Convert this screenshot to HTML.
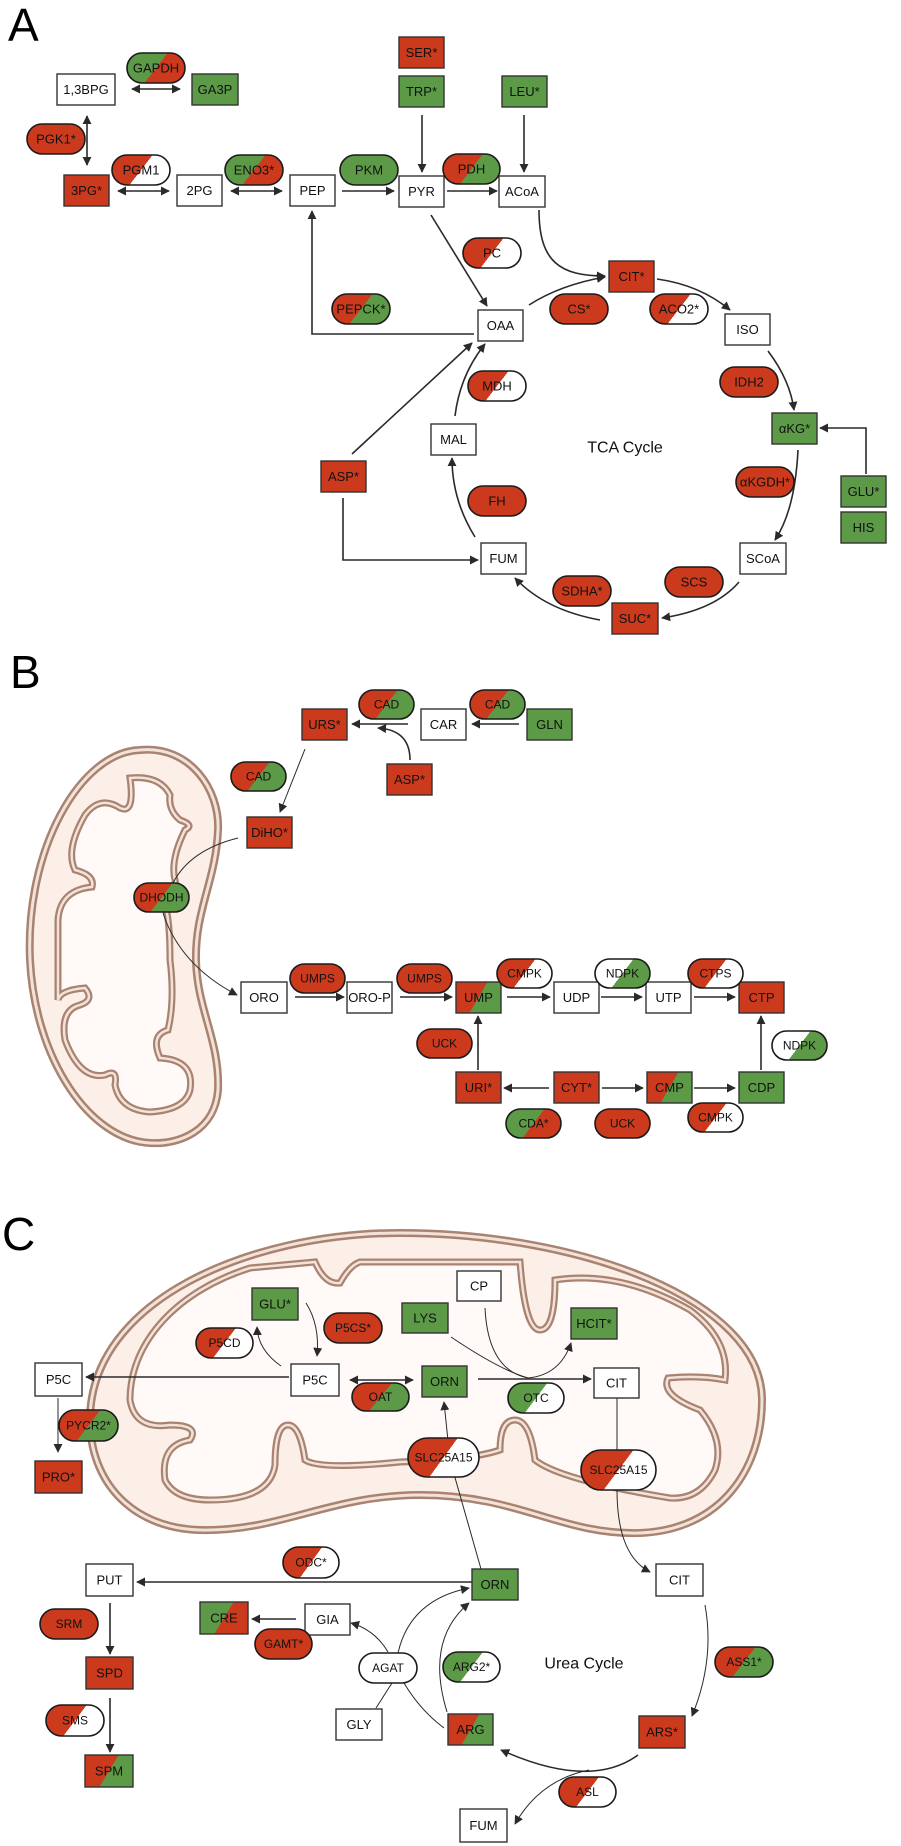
<!DOCTYPE html>
<html><head><meta charset="utf-8">
<style>
html,body{margin:0;padding:0;background:#fff;}
svg{display:block;}
.t{font-family:"Liberation Sans",Arial,sans-serif;font-size:13px;fill:#111;text-anchor:middle;dominant-baseline:central;}
.s{font-size:12px;}
.b{stroke:#333;stroke-width:1.4;}
.p{stroke:#1a1a1a;stroke-width:1.6;}
.a{fill:none;stroke:#2a2a2a;stroke-width:1.6;}
.th{fill:none;stroke:#2a2a2a;stroke-width:1;}
.lab{font-family:"Liberation Sans",Arial,sans-serif;font-size:46px;fill:#000;}
.big{font-family:"Liberation Sans",Arial,sans-serif;font-size:16px;fill:#111;text-anchor:middle;dominant-baseline:central;}
</style></head><body>
<svg width="901" height="1846" viewBox="0 0 901 1846" xmlns="http://www.w3.org/2000/svg">
<defs>
<marker id="ar" viewBox="0 0 10 10" refX="9" refY="5" markerWidth="9" markerHeight="9" markerUnits="userSpaceOnUse" orient="auto-start-reverse"><path d="M0,0 L10,5 L0,10 z" fill="#2a2a2a"/></marker>
<linearGradient id="rg" x1="0" y1="0.3" x2="1" y2="0.7"><stop offset="0.5" stop-color="#cc3a1e"/><stop offset="0.5" stop-color="#5c9a47"/></linearGradient>
<linearGradient id="gr" x1="0" y1="0.3" x2="1" y2="0.7"><stop offset="0.5" stop-color="#5c9a47"/><stop offset="0.5" stop-color="#cc3a1e"/></linearGradient>
<linearGradient id="rw" x1="0" y1="0.3" x2="1" y2="0.7"><stop offset="0.5" stop-color="#cc3a1e"/><stop offset="0.5" stop-color="#ffffff"/></linearGradient>
<linearGradient id="wg" x1="0" y1="0.3" x2="1" y2="0.7"><stop offset="0.5" stop-color="#ffffff"/><stop offset="0.5" stop-color="#5c9a47"/></linearGradient>
<linearGradient id="gw" x1="0" y1="0.3" x2="1" y2="0.7"><stop offset="0.5" stop-color="#5c9a47"/><stop offset="0.5" stop-color="#ffffff"/></linearGradient>
</defs>

<!-- Mitochondria -->
<g>
<path d="M140,750 C190,745 220,790 218,830 C216,880 195,910 196,960 C197,1010 220,1040 218,1090 C215,1130 180,1145 150,1143 C90,1140 35,1060 30,960 C25,850 80,752 140,750 Z" fill="#fbefe8" stroke="#a98371" stroke-width="8"/>
<path d="M140,750 C190,745 220,790 218,830 C216,880 195,910 196,960 C197,1010 220,1040 218,1090 C215,1130 180,1145 150,1143 C90,1140 35,1060 30,960 C25,850 80,752 140,750 Z" fill="none" stroke="#f3e2d8" stroke-width="3"/>
<path d="M130,778 Q135,815 120,808 Q100,795 85,815 Q65,850 75,870 Q95,875 92,887 Q60,890 58,920 L58,1000 Q60,990 85,988 Q95,1000 80,1005 Q60,1010 65,1040 Q80,1080 105,1075 Q118,1068 115,1085 Q120,1110 150,1112 Q185,1110 190,1090 Q195,1060 160,1058 Q150,1035 168,1030 Q175,1000 170,960 Q170,920 165,905 Q180,900 175,880 Q170,860 185,830 Q195,825 180,820 Q168,810 170,795 Q160,775 130,778 Z" fill="#fffaf8" stroke="#a98371" stroke-width="7"/>
<path d="M130,778 Q135,815 120,808 Q100,795 85,815 Q65,850 75,870 Q95,875 92,887 Q60,890 58,920 L58,1000 Q60,990 85,988 Q95,1000 80,1005 Q60,1010 65,1040 Q80,1080 105,1075 Q118,1068 115,1085 Q120,1110 150,1112 Q185,1110 190,1090 Q195,1060 160,1058 Q150,1035 168,1030 Q175,1000 170,960 Q170,920 165,905 Q180,900 175,880 Q170,860 185,830 Q195,825 180,820 Q168,810 170,795 Q160,775 130,778 Z" fill="none" stroke="#f3e2d8" stroke-width="2.5"/>

<path d="M90,1420 C90,1300 250,1233 400,1233 C580,1233 762,1300 762,1400 C762,1470 720,1530 640,1533 C560,1535 520,1495 420,1495 C330,1495 280,1532 200,1530 C130,1528 90,1480 90,1420 Z" fill="#fbefe8" stroke="#a98371" stroke-width="8"/>
<path d="M90,1420 C90,1300 250,1233 400,1233 C580,1233 762,1300 762,1400 C762,1470 720,1530 640,1533 C560,1535 520,1495 420,1495 C330,1495 280,1532 200,1530 C130,1528 90,1480 90,1420 Z" fill="none" stroke="#f3e2d8" stroke-width="3"/>
<path d="M130,1400 C130,1340 180,1290 250,1268 L315,1262 Q325,1285 340,1283 Q350,1265 360,1262 L520,1262 Q525,1330 540,1330 Q555,1330 555,1280 Q620,1270 690,1310 Q730,1340 725,1380 Q700,1375 668,1378 Q660,1395 700,1410 Q725,1440 715,1470 Q700,1500 670,1498 Q560,1480 535,1460 Q530,1420 515,1420 Q500,1420 500,1450 Q470,1460 400,1462 Q320,1470 305,1460 Q300,1425 288,1425 Q275,1425 275,1465 Q270,1500 210,1500 Q175,1500 165,1480 Q160,1445 190,1440 Q200,1425 170,1425 Q135,1430 130,1400 Z" fill="#fffaf8" stroke="#a98371" stroke-width="7"/>
<path d="M130,1400 C130,1340 180,1290 250,1268 L315,1262 Q325,1285 340,1283 Q350,1265 360,1262 L520,1262 Q525,1330 540,1330 Q555,1330 555,1280 Q620,1270 690,1310 Q730,1340 725,1380 Q700,1375 668,1378 Q660,1395 700,1410 Q725,1440 715,1470 Q700,1500 670,1498 Q560,1480 535,1460 Q530,1420 515,1420 Q500,1420 500,1450 Q470,1460 400,1462 Q320,1470 305,1460 Q300,1425 288,1425 Q275,1425 275,1465 Q270,1500 210,1500 Q175,1500 165,1480 Q160,1445 190,1440 Q200,1425 170,1425 Q135,1430 130,1400 Z" fill="none" stroke="#f3e2d8" stroke-width="2.5"/>
</g>

<text class="lab" x="8" y="41">A</text>
<text class="lab" x="10" y="688">B</text>
<text class="lab" x="2" y="1250">C</text>

<!-- Panel A connectors -->
<g class="a">
<line x1="132" y1="89" x2="180" y2="89" marker-start="url(#ar)" marker-end="url(#ar)"/>
<line x1="87" y1="116" x2="87" y2="165" marker-start="url(#ar)" marker-end="url(#ar)"/>
<line x1="118" y1="191" x2="169" y2="191" marker-start="url(#ar)" marker-end="url(#ar)"/>
<line x1="231" y1="191" x2="282" y2="191" marker-start="url(#ar)" marker-end="url(#ar)"/>
<line x1="342" y1="191" x2="394" y2="191" marker-end="url(#ar)"/>
<line x1="447" y1="191" x2="497" y2="191" marker-end="url(#ar)"/>
<line x1="422" y1="115" x2="422" y2="172" marker-end="url(#ar)"/>
<line x1="524" y1="115" x2="524" y2="172" marker-end="url(#ar)"/>
<path d="M474,334 L312,334 L312,211" marker-end="url(#ar)"/>
<line x1="431" y1="215" x2="487" y2="306" marker-end="url(#ar)"/>
<path d="M539,210 C539,262 560,276 605,276" marker-end="url(#ar)"/>
<path d="M529,305 Q560,285 605,277" marker-end="url(#ar)"/>
<path d="M657,279 Q700,285 730,310" marker-end="url(#ar)"/>
<path d="M768,351 Q790,380 794,410" marker-end="url(#ar)"/>
<path d="M798,450 Q795,510 775,540" marker-end="url(#ar)"/>
<path d="M739,582 Q715,610 662,618" marker-end="url(#ar)"/>
<path d="M600,620 Q545,610 515,578" marker-end="url(#ar)"/>
<path d="M475,537 Q452,500 452,458" marker-end="url(#ar)"/>
<path d="M455,416 Q460,375 485,344" marker-end="url(#ar)"/>
<line x1="352" y1="454" x2="472" y2="343" marker-end="url(#ar)"/>
<path d="M343,498 L343,560 L478,560" marker-end="url(#ar)"/>
<path d="M866,474 L866,428 L820,428" marker-end="url(#ar)"/>
</g>
<text class="big" x="625" y="448">TCA Cycle</text>

<!-- Panel A boxes -->
<g>
<rect class="b" x="57" y="74" width="58" height="31" fill="#fff"/><text class="t" x="86" y="89.5">1,3BPG</text>
<rect class="b" x="192" y="74" width="46" height="31" fill="#5c9a47"/><text class="t" x="215" y="89.5">GA3P</text>
<rect class="b" x="399" y="37" width="45" height="31" fill="#cc3a1e"/><text class="t" x="421.5" y="52.5">SER*</text>
<rect class="b" x="399" y="76" width="45" height="31" fill="#5c9a47"/><text class="t" x="421.5" y="91.5">TRP*</text>
<rect class="b" x="502" y="76" width="45" height="31" fill="#5c9a47"/><text class="t" x="524.5" y="91.5">LEU*</text>
<rect class="b" x="64" y="175" width="45" height="31" fill="#cc3a1e"/><text class="t" x="86.5" y="190.5">3PG*</text>
<rect class="b" x="177" y="175" width="45" height="31" fill="#fff"/><text class="t" x="199.5" y="190.5">2PG</text>
<rect class="b" x="290" y="175" width="45" height="31" fill="#fff"/><text class="t" x="312.5" y="190.5">PEP</text>
<rect class="b" x="399" y="176" width="45" height="31" fill="#fff"/><text class="t" x="421.5" y="191.5">PYR</text>
<rect class="b" x="499" y="176" width="46" height="31" fill="#fff"/><text class="t" x="522" y="191.5">ACoA</text>
<rect class="b" x="478" y="310" width="45" height="31" fill="#fff"/><text class="t" x="500.5" y="325.5">OAA</text>
<rect class="b" x="609" y="261" width="45" height="31" fill="#cc3a1e"/><text class="t" x="631.5" y="276.5">CIT*</text>
<rect class="b" x="725" y="314" width="45" height="31" fill="#fff"/><text class="t" x="747.5" y="329.5">ISO</text>
<rect class="b" x="772" y="413" width="45" height="31" fill="#5c9a47"/><text class="t" x="794.5" y="428.5">αKG*</text>
<rect class="b" x="841" y="476" width="45" height="31" fill="#5c9a47"/><text class="t" x="863.5" y="491.5">GLU*</text>
<rect class="b" x="841" y="512" width="45" height="31" fill="#5c9a47"/><text class="t" x="863.5" y="527.5">HIS</text>
<rect class="b" x="431" y="424" width="45" height="31" fill="#fff"/><text class="t" x="453.5" y="439.5">MAL</text>
<rect class="b" x="321" y="461" width="45" height="31" fill="#cc3a1e"/><text class="t" x="343.5" y="476.5">ASP*</text>
<rect class="b" x="481" y="543" width="45" height="31" fill="#fff"/><text class="t" x="503.5" y="558.5">FUM</text>
<rect class="b" x="740" y="543" width="46" height="31" fill="#fff"/><text class="t" x="763" y="558.5">SCoA</text>
<rect class="b" x="612" y="603" width="46" height="31" fill="#cc3a1e"/><text class="t" x="635" y="618.5">SUC*</text>
</g>
<!-- Panel A pills -->
<g>
<rect class="p" x="127" y="53" width="58" height="30" rx="15" fill="url(#gr)"/><text class="t" x="156" y="68">GAPDH</text>
<rect class="p" x="27" y="124" width="58" height="30" rx="15" fill="#cc3a1e"/><text class="t" x="56" y="139">PGK1*</text>
<rect class="p" x="112" y="155" width="58" height="30" rx="15" fill="url(#rw)"/><text class="t" x="141" y="170">PGM1</text>
<rect class="p" x="225" y="155" width="58" height="30" rx="15" fill="url(#gr)"/><text class="t" x="254" y="170">ENO3*</text>
<rect class="p" x="340" y="155" width="58" height="30" rx="15" fill="#5c9a47"/><text class="t" x="369" y="170">PKM</text>
<rect class="p" x="443" y="154" width="57" height="30" rx="15" fill="url(#rg)"/><text class="t" x="471.5" y="169">PDH</text>
<rect class="p" x="463" y="238" width="58" height="30" rx="15" fill="url(#rw)"/><text class="t" x="492" y="253">PC</text>
<rect class="p" x="332" y="294" width="58" height="30" rx="15" fill="url(#rg)"/><text class="t" x="361" y="309">PEPCK*</text>
<rect class="p" x="550" y="294" width="58" height="30" rx="15" fill="#cc3a1e"/><text class="t" x="579" y="309">CS*</text>
<rect class="p" x="650" y="294" width="58" height="30" rx="15" fill="url(#rw)"/><text class="t" x="679" y="309">ACO2*</text>
<rect class="p" x="720" y="367" width="58" height="30" rx="15" fill="#cc3a1e"/><text class="t" x="749" y="382">IDH2</text>
<rect class="p" x="468" y="371" width="58" height="30" rx="15" fill="url(#rw)"/><text class="t" x="497" y="386">MDH</text>
<rect class="p" x="736" y="467" width="58" height="30" rx="15" fill="#cc3a1e"/><text class="t" x="765" y="482">αKGDH*</text>
<rect class="p" x="468" y="486" width="58" height="30" rx="15" fill="#cc3a1e"/><text class="t" x="497" y="501">FH</text>
<rect class="p" x="665" y="567" width="58" height="30" rx="15" fill="#cc3a1e"/><text class="t" x="694" y="582">SCS</text>
<rect class="p" x="553" y="576" width="58" height="30" rx="15" fill="#cc3a1e"/><text class="t" x="582" y="591">SDHA*</text>
</g>

<!-- Panel B connectors -->
<g class="a">
<line x1="519" y1="724" x2="472" y2="724" marker-end="url(#ar)"/>
<line x1="408" y1="724" x2="352" y2="724" marker-end="url(#ar)"/>
<path d="M410,760 Q410,730 378,728" marker-end="url(#ar)"/>
<line x1="305" y1="749" x2="280" y2="812" class="th" marker-end="url(#ar)"/>
<path d="M238,838 Q190,850 173,883" class="th"/>
<path d="M163,913 Q180,965 237,995" class="th" marker-end="url(#ar)"/>
<line x1="295" y1="997" x2="344" y2="997" marker-end="url(#ar)"/>
<line x1="400" y1="997" x2="452" y2="997" marker-end="url(#ar)"/>
<line x1="507" y1="997" x2="550" y2="997" marker-end="url(#ar)"/>
<line x1="601" y1="997" x2="642" y2="997" marker-end="url(#ar)"/>
<line x1="694" y1="997" x2="735" y2="997" marker-end="url(#ar)"/>
<line x1="478" y1="1070" x2="478" y2="1016" marker-end="url(#ar)"/>
<line x1="761" y1="1070" x2="761" y2="1016" marker-end="url(#ar)"/>
<line x1="549" y1="1088" x2="504" y2="1088" marker-end="url(#ar)"/>
<line x1="602" y1="1088" x2="643" y2="1088" marker-end="url(#ar)"/>
<line x1="694" y1="1088" x2="735" y2="1088" marker-end="url(#ar)"/>
</g>
<g>
<rect class="b" x="302" y="709" width="45" height="31" fill="#cc3a1e"/><text class="t" x="324.5" y="724.5">URS*</text>
<rect class="b" x="421" y="709" width="45" height="31" fill="#fff"/><text class="t" x="443.5" y="724.5">CAR</text>
<rect class="b" x="527" y="709" width="45" height="31" fill="#5c9a47"/><text class="t" x="549.5" y="724.5">GLN</text>
<rect class="b" x="387" y="764" width="45" height="31" fill="#cc3a1e"/><text class="t" x="409.5" y="779.5">ASP*</text>
<rect class="b" x="247" y="817" width="45" height="31" fill="#cc3a1e"/><text class="t" x="269.5" y="832.5">DiHO*</text>
<rect class="b" x="241" y="982" width="46" height="31" fill="#fff"/><text class="t" x="264" y="997.5">ORO</text>
<rect class="b" x="347" y="982" width="45" height="31" fill="#fff"/><text class="t" x="369.5" y="997.5">ORO-P</text>
<rect class="b" x="456" y="982" width="45" height="31" fill="url(#rg)"/><text class="t" x="478.5" y="997.5">UMP</text>
<rect class="b" x="554" y="982" width="45" height="31" fill="#fff"/><text class="t" x="576.5" y="997.5">UDP</text>
<rect class="b" x="646" y="982" width="45" height="31" fill="#fff"/><text class="t" x="668.5" y="997.5">UTP</text>
<rect class="b" x="739" y="982" width="45" height="31" fill="#cc3a1e"/><text class="t" x="761.5" y="997.5">CTP</text>
<rect class="b" x="456" y="1072" width="45" height="31" fill="#cc3a1e"/><text class="t" x="478.5" y="1087.5">URI*</text>
<rect class="b" x="554" y="1072" width="45" height="31" fill="#cc3a1e"/><text class="t" x="576.5" y="1087.5">CYT*</text>
<rect class="b" x="647" y="1072" width="45" height="31" fill="url(#rg)"/><text class="t" x="669.5" y="1087.5">CMP</text>
<rect class="b" x="739" y="1072" width="45" height="31" fill="#5c9a47"/><text class="t" x="761.5" y="1087.5">CDP</text>
</g>
<g>
<rect class="p" x="359" y="690" width="55" height="29" rx="14.5" fill="url(#rg)"/><text class="t s" x="386.5" y="704.5">CAD</text>
<rect class="p" x="470" y="690" width="55" height="29" rx="14.5" fill="url(#rg)"/><text class="t s" x="497.5" y="704.5">CAD</text>
<rect class="p" x="231" y="762" width="55" height="29" rx="14.5" fill="url(#rg)"/><text class="t s" x="258.5" y="776.5">CAD</text>
<rect class="p" x="134" y="883" width="55" height="29" rx="14.5" fill="url(#rg)"/><text class="t s" x="161.5" y="897.5">DHODH</text>
<rect class="p" x="290" y="964" width="55" height="29" rx="14.5" fill="#cc3a1e"/><text class="t s" x="317.5" y="978.5">UMPS</text>
<rect class="p" x="397" y="964" width="55" height="29" rx="14.5" fill="#cc3a1e"/><text class="t s" x="424.5" y="978.5">UMPS</text>
<rect class="p" x="497" y="959" width="55" height="29" rx="14.5" fill="url(#rw)"/><text class="t s" x="524.5" y="973.5">CMPK</text>
<rect class="p" x="595" y="959" width="55" height="29" rx="14.5" fill="url(#wg)"/><text class="t s" x="622.5" y="973.5">NDPK</text>
<rect class="p" x="688" y="959" width="55" height="29" rx="14.5" fill="url(#rw)"/><text class="t s" x="715.5" y="973.5">CTPS</text>
<rect class="p" x="417" y="1029" width="55" height="29" rx="14.5" fill="#cc3a1e"/><text class="t s" x="444.5" y="1043.5">UCK</text>
<rect class="p" x="772" y="1031" width="55" height="29" rx="14.5" fill="url(#wg)"/><text class="t s" x="799.5" y="1045.5">NDPK</text>
<rect class="p" x="506" y="1109" width="55" height="29" rx="14.5" fill="url(#gr)"/><text class="t s" x="533.5" y="1123.5">CDA*</text>
<rect class="p" x="595" y="1109" width="55" height="29" rx="14.5" fill="#cc3a1e"/><text class="t s" x="622.5" y="1123.5">UCK</text>
<rect class="p" x="688" y="1103" width="55" height="29" rx="14.5" fill="url(#rw)"/><text class="t s" x="715.5" y="1117.5">CMPK</text>
</g>

<!-- Panel C connectors -->
<g class="a">
<line x1="289" y1="1377" x2="86" y2="1377" marker-end="url(#ar)"/>
<line x1="350" y1="1380" x2="413" y2="1380" marker-start="url(#ar)" marker-end="url(#ar)"/>
<line x1="478" y1="1379" x2="591" y2="1379" marker-end="url(#ar)"/>
<path d="M306,1303 Q320,1325 317,1356" class="th" marker-end="url(#ar)"/>
<path d="M281,1366 Q258,1350 257,1327" class="th" marker-end="url(#ar)"/>
<path d="M451,1337 Q500,1370 528,1378" class="th"/>
<path d="M485,1308 Q488,1370 528,1378" class="th"/>
<path d="M528,1378 Q560,1375 571,1343" class="th" marker-end="url(#ar)"/>
<line x1="58" y1="1398" x2="58" y2="1452" class="th" marker-end="url(#ar)"/>
<path d="M481,1569 L450,1460 L444,1402" class="th" marker-end="url(#ar)"/>
<path d="M617,1398 L617,1490 Q617,1555 650,1572" class="th" marker-end="url(#ar)"/>
<line x1="472" y1="1582" x2="137" y2="1582" marker-end="url(#ar)"/>
<line x1="110" y1="1603" x2="110" y2="1654" marker-end="url(#ar)"/>
<line x1="110" y1="1698" x2="110" y2="1752" marker-end="url(#ar)"/>
<line x1="296" y1="1619" x2="252" y2="1619" marker-end="url(#ar)"/>
<path d="M388,1652 Q375,1630 351,1623" class="th" marker-end="url(#ar)"/>
<path d="M398,1653 Q410,1600 469,1588" class="th" marker-end="url(#ar)"/>
<line x1="376" y1="1708" x2="392" y2="1683" class="th"/>
<path d="M444,1728 Q420,1710 404,1683" class="th"/>
<path d="M447,1712 Q425,1640 469,1603" class="th" marker-end="url(#ar)"/>
<path d="M705,1605 Q715,1660 692,1716" class="th" marker-end="url(#ar)"/>
<path d="M638,1755 Q590,1790 501,1750" marker-end="url(#ar)"/>
<path d="M589,1770 Q540,1780 515,1824" class="th" marker-end="url(#ar)"/>
</g>
<text class="big" x="584" y="1664">Urea Cycle</text>
<g>
<rect class="b" x="252" y="1288" width="46" height="32" fill="#5c9a47"/><text class="t" x="275" y="1304">GLU*</text>
<rect class="b" x="402" y="1303" width="46" height="30" fill="#5c9a47"/><text class="t" x="425" y="1318">LYS</text>
<rect class="b" x="457" y="1271" width="44" height="30" fill="#fff"/><text class="t" x="479" y="1286">CP</text>
<rect class="b" x="571" y="1308" width="46" height="31" fill="#5c9a47"/><text class="t" x="594" y="1323.5">HCIT*</text>
<rect class="b" x="35" y="1363" width="47" height="33" fill="#fff"/><text class="t" x="58.5" y="1379.5">P5C</text>
<rect class="b" x="291" y="1364" width="48" height="32" fill="#fff"/><text class="t" x="315" y="1380">P5C</text>
<rect class="b" x="422" y="1366" width="45" height="31" fill="#5c9a47"/><text class="t" x="444.5" y="1381.5">ORN</text>
<rect class="b" x="594" y="1368" width="45" height="30" fill="#fff"/><text class="t" x="616.5" y="1383">CIT</text>
<rect class="b" x="35" y="1461" width="47" height="32" fill="#cc3a1e"/><text class="t" x="58.5" y="1477">PRO*</text>
<rect class="b" x="86" y="1564" width="47" height="32" fill="#fff"/><text class="t" x="109.5" y="1580">PUT</text>
<rect class="b" x="472" y="1569" width="46" height="31" fill="#5c9a47"/><text class="t" x="495" y="1584.5">ORN</text>
<rect class="b" x="656" y="1564" width="47" height="32" fill="#fff"/><text class="t" x="679.5" y="1580">CIT</text>
<rect class="b" x="200" y="1602" width="48" height="32" fill="url(#gr)"/><text class="t" x="224" y="1618">CRE</text>
<rect class="b" x="305" y="1604" width="45" height="31" fill="#fff"/><text class="t" x="327.5" y="1619.5">GIA</text>
<rect class="b" x="86" y="1657" width="47" height="32" fill="#cc3a1e"/><text class="t" x="109.5" y="1673">SPD</text>
<rect class="b" x="336" y="1709" width="46" height="31" fill="#fff"/><text class="t" x="359" y="1724.5">GLY</text>
<rect class="b" x="448" y="1714" width="45" height="31" fill="url(#rg)"/><text class="t" x="470.5" y="1729.5">ARG</text>
<rect class="b" x="639" y="1716" width="46" height="32" fill="#cc3a1e"/><text class="t" x="662" y="1732">ARS*</text>
<rect class="b" x="85" y="1755" width="48" height="32" fill="url(#rg)"/><text class="t" x="109" y="1771">SPM</text>
<rect class="b" x="460" y="1809" width="47" height="33" fill="#fff"/><text class="t" x="483.5" y="1825.5">FUM</text>
</g>
<g>
<rect class="p" x="196" y="1328" width="57" height="30" rx="15" fill="url(#rw)"/><text class="t s" x="224.5" y="1343">P5CD</text>
<rect class="p" x="324" y="1313" width="58" height="30" rx="15" fill="#cc3a1e"/><text class="t s" x="353" y="1328">P5CS*</text>
<rect class="p" x="352" y="1383" width="57" height="28" rx="14" fill="url(#rg)"/><text class="t s" x="380.5" y="1397">OAT</text>
<rect class="p" x="508" y="1383" width="56" height="30" rx="15" fill="url(#gw)"/><text class="t s" x="536" y="1398">OTC</text>
<rect class="p" x="59" y="1410" width="59" height="31" rx="15.5" fill="url(#rg)"/><text class="t s" x="88.5" y="1425.5">PYCR2*</text>
<rect class="p" x="408" y="1438" width="71" height="39" rx="19.5" fill="url(#rw)"/><text class="t s" x="443.5" y="1457.5">SLC25A15</text>
<rect class="p" x="581" y="1450" width="75" height="40" rx="20" fill="url(#rw)"/><text class="t s" x="618.5" y="1470">SLC25A15</text>
<rect class="p" x="283" y="1547" width="56" height="31" rx="15.5" fill="url(#rw)"/><text class="t s" x="311" y="1562.5">ODC*</text>
<rect class="p" x="40" y="1609" width="58" height="30" rx="15" fill="#cc3a1e"/><text class="t s" x="69" y="1624">SRM</text>
<rect class="p" x="255" y="1629" width="57" height="30" rx="15" fill="#cc3a1e"/><text class="t s" x="283.5" y="1644">GAMT*</text>
<rect class="p" x="359" y="1653" width="58" height="30" rx="15" fill="#fff"/><text class="t s" x="388" y="1668">AGAT</text>
<rect class="p" x="443" y="1652" width="57" height="30" rx="15" fill="url(#gw)"/><text class="t s" x="471.5" y="1667">ARG2*</text>
<rect class="p" x="715" y="1647" width="58" height="30" rx="15" fill="url(#rg)"/><text class="t s" x="744" y="1662">ASS1*</text>
<rect class="p" x="46" y="1705" width="58" height="31" rx="15.5" fill="url(#rw)"/><text class="t s" x="75" y="1720.5">SMS</text>
<rect class="p" x="559" y="1777" width="57" height="30" rx="15" fill="url(#rw)"/><text class="t s" x="587.5" y="1792">ASL</text>
</g>
</svg>
</body></html>
